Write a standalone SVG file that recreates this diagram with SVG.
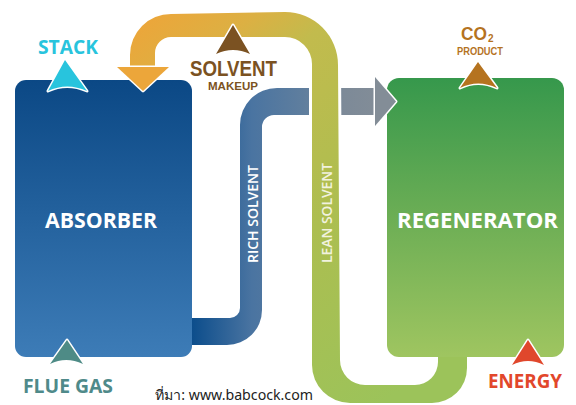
<svg xmlns="http://www.w3.org/2000/svg" width="576" height="405" viewBox="0 0 576 405">
<style>
.lbl{font-family:"Open Sans","Liberation Sans",sans-serif;font-weight:700}
.lbs{font-family:"Liberation Sans","Open Sans",sans-serif;font-weight:700}
.tri{stroke:#ffffff;stroke-width:3;stroke-linejoin:round;paint-order:stroke}
.white{fill:#ffffff}
</style>
<defs>
<linearGradient id="gAbs" x1="0" y1="0" x2="0" y2="1">
<stop offset="0" stop-color="#0b4885"/>
<stop offset="1" stop-color="#3d7cb7"/>
</linearGradient>
<linearGradient id="gReg" x1="0" y1="0" x2="0" y2="1">
<stop offset="0" stop-color="#36984c"/>
<stop offset="0.5" stop-color="#6cae55"/>
<stop offset="1" stop-color="#9fc560"/>
</linearGradient>
<linearGradient id="gRich" gradientUnits="userSpaceOnUse" x1="190" y1="0" x2="396" y2="0">
<stop offset="0" stop-color="#0a4c8b"/>
<stop offset="0.3" stop-color="#4a74a1"/>
<stop offset="0.55" stop-color="#5f7e9e"/>
<stop offset="0.75" stop-color="#7d8a98"/>
<stop offset="1" stop-color="#858e97"/>
</linearGradient>
<linearGradient id="gLean" gradientUnits="userSpaceOnUse" x1="130" y1="30" x2="400" y2="390">
<stop offset="0" stop-color="#eca63a"/>
<stop offset="0.14" stop-color="#dcb043"/>
<stop offset="0.25" stop-color="#c2bb4d"/>
<stop offset="0.6" stop-color="#acbe50"/>
<stop offset="1" stop-color="#9cc35a"/>
</linearGradient>
</defs>

<g id="connectors">
<path id="rich-solvent" fill="url(#gRich)" d="M185,318 L230,318 A10,10 0 0 0 240,308 L240,125 A37,37 0 0 1 277,88 L376,88 L376,115 L274,115 A12,12 0 0 0 262,127 L262,310 A35,35 0 0 1 227,345 L185,345 Z"/>
<path id="lean-solvent" fill="url(#gLean)" stroke="#ffffff" stroke-width="6" stroke-linejoin="round" paint-order="stroke" d="M130,68 L130,55 A41,41 0 0 1 171,14 L285,12 A53,53 0 0 1 338,65 L340,360 A25,25 0 0 0 365,385 L415,385 A23,23 0 0 0 438,362 L438,350 L467,350 L467,368 A35,35 0 0 1 432,403 L350,403 A38,38 0 0 1 312,365 L312,64 A27,27 0 0 0 285,37 L171,37 A16,16 0 0 0 155,53 L155,68 Z"/>
</g>

<g id="absorber">
<rect x="15" y="80" width="177" height="277" rx="11" fill="url(#gAbs)"/>
<text class="lbl white" x="101" y="228" font-size="21" text-anchor="middle" textLength="112" lengthAdjust="spacingAndGlyphs">ABSORBER</text>
</g>

<g id="regenerator">
<rect x="387" y="78" width="177" height="279" rx="12" fill="url(#gReg)"/>
<text class="lbl white" x="477.5" y="228" font-size="21" text-anchor="middle" textLength="161" lengthAdjust="spacingAndGlyphs">REGENERATOR</text>
</g>

<g id="arrowheads">
<path class="tri" fill="#eca63a" d="M117,67 L169,67 L143,91 Z"/>
<path class="tri" fill="#838d97" d="M375,77 L396,101.5 L375,126 Z"/>
</g>

<g id="rich-label">
<text class="lbl" x="0" y="0" transform="translate(258,214) rotate(-90)" font-size="15" fill="#ffffff" text-anchor="middle" textLength="98" lengthAdjust="spacingAndGlyphs" style="font-weight:600">RICH SOLVENT</text>
</g>
<g id="lean-label">
<text class="lbl" x="0" y="0" transform="translate(332,213) rotate(-90)" font-size="15" fill="#f1f2de" text-anchor="middle" textLength="100" lengthAdjust="spacingAndGlyphs" style="font-weight:600">LEAN SOLVENT</text>
</g>

<g id="stack">
<path class="tri" fill="#28c4dd" d="M65,60 L87,91 Q67,82 48,91 Z"/>
<text class="lbl" x="38" y="54" font-size="19" fill="#28c4dd" textLength="60" lengthAdjust="spacingAndGlyphs">STACK</text>
</g>

<g id="solvent-makeup">
<path class="tri" fill="#7b5222" d="M233,25 L250,54 Q233,46 216,54 Z"/>
<text class="lbs" x="190" y="76" font-size="22" fill="#7b5222" textLength="87" lengthAdjust="spacingAndGlyphs">SOLVENT</text>
<text class="lbs" x="208" y="90" font-size="11.5" fill="#7b5222" textLength="50" lengthAdjust="spacingAndGlyphs">MAKEUP</text>
</g>

<g id="co2-product">
<path class="tri" fill="#b5731f" d="M478,62 L497,88 Q478,79 460,88 Z"/>
<text class="lbs" x="461" y="40" font-size="18" fill="#b5731f" textLength="26" lengthAdjust="spacingAndGlyphs">CO</text>
<text class="lbs" x="488" y="42" font-size="10" fill="#b5731f">2</text>
<text class="lbs" x="457" y="55" font-size="11.5" fill="#b5731f" textLength="46" lengthAdjust="spacingAndGlyphs">PRODUCT</text>
</g>

<g id="flue-gas">
<path class="tri" fill="#4e8b86" d="M67,340 L83,364 Q66,356 50,364 Z"/>
<text class="lbl" x="23" y="393" font-size="20" fill="#4f8a8a" textLength="90" lengthAdjust="spacingAndGlyphs">FLUE GAS</text>
</g>

<g id="energy">
<path class="tri" fill="#e0472c" d="M528,340 L544,365 Q528,357 512,365 Z"/>
<text class="lbl" x="488" y="388" font-size="20" fill="#e2472b" textLength="74" lengthAdjust="spacingAndGlyphs">ENERGY</text>
</g>

<text x="155" y="400" font-family="'Noto Sans','DejaVu Sans','Liberation Sans',sans-serif" font-size="14" fill="#222222" textLength="158" lengthAdjust="spacingAndGlyphs">ที่มา: www.babcock.com</text>
</svg>
